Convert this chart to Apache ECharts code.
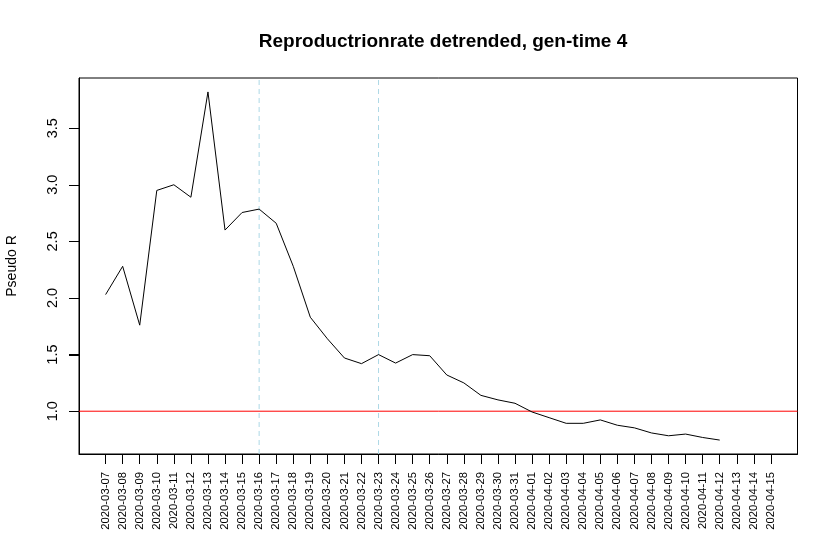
<!DOCTYPE html>
<html>
<head>
<meta charset="utf-8">
<script src="https://cdn.jsdelivr.net/npm/echarts@6/dist/echarts.min.js"></script>
<style>html,body{margin:0;padding:0;background:#fff;}#c{width:838px;height:553px;}</style>
</head>
<body>
<div id="c"></div>
<script>
var dates = ["2020-03-07","2020-03-08","2020-03-09","2020-03-10","2020-03-11","2020-03-12","2020-03-13","2020-03-14","2020-03-15","2020-03-16","2020-03-17","2020-03-18","2020-03-19","2020-03-20","2020-03-21","2020-03-22","2020-03-23","2020-03-24","2020-03-25","2020-03-26","2020-03-27","2020-03-28","2020-03-29","2020-03-30","2020-03-31","2020-04-01","2020-04-02","2020-04-03","2020-04-04","2020-04-05","2020-04-06","2020-04-07","2020-04-08","2020-04-09","2020-04-10","2020-04-11","2020-04-12","2020-04-13","2020-04-14","2020-04-15"];
var pseudoR = [2.03,2.28,1.76,2.95,3.0,2.89,3.82,2.6,2.755,2.785,2.66,2.28,1.83,1.64,1.47,1.42,1.50,1.425,1.50,1.49,1.32,1.25,1.14,1.10,1.07,0.993,0.943,0.893,0.893,0.923,0.876,0.853,0.808,0.783,0.798,0.768,0.745];
var yTicks = [1.0,1.5,2.0,2.5,3.0,3.5];
var markedDates = ["2020-03-16","2020-03-23"];
var threshold = 1.0;

var xIdx = dates.map(function(d,i){return i;});
var seriesData = pseudoR.map(function(v,i){return [i,v];});
var vmin = Math.min.apply(null,pseudoR), vmax = Math.max.apply(null,pseudoR);
var ypad = (vmax-vmin)*0.04, xpad = (dates.length-1)*0.04;
var xMin = -xpad, xMax = dates.length-1+xpad, yMin = vmin-ypad, yMax = vmax+ypad;
var font = "Liberation Sans, Arial, Helvetica, sans-serif";

function refLine(pts, color, type){
  return {type:'line', data:pts, silent:true, z:2, showSymbol:false, symbol:'none',
    lineStyle:{color:color,width:1,type:type}, itemStyle:{color:color}};
}
var v1 = dates.indexOf(markedDates[0]), v2 = dates.indexOf(markedDates[1]);

var chart = echarts.init(document.getElementById('c'), null, {renderer:'canvas'});
chart.setOption({
  animation:false,
  backgroundColor:'#fff',
  title:{
    text:'Reproductrionrate detrended, gen-time 4',
    left:438, textAlign:'center', top:27,
    textStyle:{fontFamily:font,fontSize:19,fontWeight:'bold',color:'#000'}
  },
  grid:{left:79,right:40.5,top:78,bottom:99,containLabel:false,outerBoundsMode:'none',
        show:true,borderColor:'#000',borderWidth:1,backgroundColor:'transparent'},
  xAxis:{
    type:'value', min:xMin, max:xMax,
    axisLine:{show:true,onZero:false,lineStyle:{color:'#000',width:1}},
    splitLine:{show:false},
    axisTick:{show:true,length:10,lineStyle:{color:'#000'},customValues:xIdx},
    axisLabel:{rotate:90,fontSize:11.3,fontFamily:font,color:'#000',margin:18,customValues:xIdx,
      formatter:function(v){return dates[Math.round(v)];}}
  },
  yAxis:{
    type:'value', min:yMin, max:yMax, position:'left',
    name:'Pseudo R', nameLocation:'middle', nameRotate:90, nameGap:60,
    nameTextStyle:{fontFamily:font,fontSize:14,color:'#000'},
    axisLine:{show:true,onZero:false,lineStyle:{color:'#000',width:1}},
    splitLine:{show:false},
    axisTick:{show:true,inside:false,length:10,lineStyle:{color:'#000',width:1},customValues:yTicks},
    axisLabel:{rotate:90,fontSize:14.5,fontFamily:font,color:'#000',margin:19,customValues:yTicks,
      formatter:function(v){return v.toFixed(1);}}
  },
  series:[
    refLine([[xMin,threshold],[xMax,threshold]], '#ff0000', 'solid'),
    refLine([[v1,yMin],[v1,yMax]], '#add8e6', [5,4]),
    refLine([[v2,yMin],[v2,yMax]], '#add8e6', [5,4]),
    {type:'line', data:seriesData, showSymbol:false, symbol:'none',
     lineStyle:{color:'#000',width:1}, itemStyle:{color:'#000'}, z:3}
  ]
});

// y-axis tick marks, positioned through the chart's own y scale, on their own layer
var gridRect = chart.getModel().getComponent('grid', 0).coordinateSystem.getRect();
var tickGraphics = yTicks.map(function(t){
  var py = chart.convertToPixel({yAxisIndex:0}, t);
  var yy = Math.round(py) + 0.5;
  var x0 = Math.round(gridRect.x);
  return {type:'line', silent:true, zlevel:1, z:100,
          shape:{x1:x0-10, y1:yy, x2:x0, y2:yy},
          style:{stroke:'#000', lineWidth:1}};
});
chart.setOption({graphic:{elements:tickGraphics}});
</script>
</body>
</html>
